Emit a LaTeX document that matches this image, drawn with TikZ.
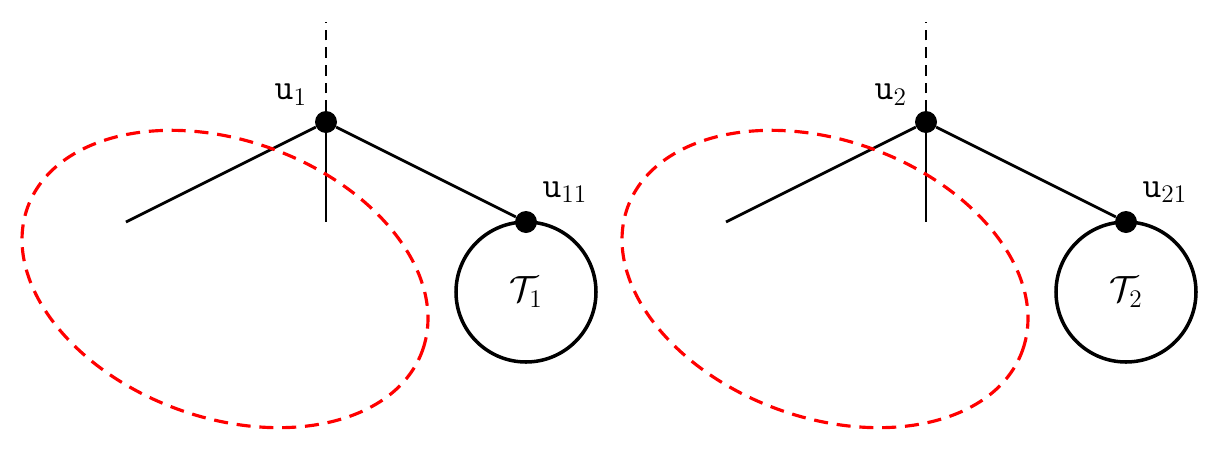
\documentclass[tikz,border=0pt]{standalone}
\usetikzlibrary{positioning}
\begin{document}
\begin{tikzpicture}[
    >=stealth,
    edge/.style={line width=1.6pt},
    vertex/.style={circle, fill=black, inner sep=0pt, minimum size=0.44cm},
    subtree/.style={circle, draw, line width=2pt, minimum size=2.8cm, inner sep=0pt, font=\huge},
    region/.style={red, dashed, line width=1.8pt, dash pattern=on 8pt off 5pt},
    lbl/.style={font=\huge},
]
    \useasboundingbox (0,0) rectangle (24.32,-9);

    % two copies of the same tree, shifted by 12cm
    \foreach \i/\dx in {1/0, 2/12} {
        \begin{scope}[xshift=\dx cm]
            \node[vertex] (u\i) at (6.52,-2.44) {};
            \coordinate (top\i) at (6.52,-0.44);
            \coordinate (left\i) at (2.52,-4.44);
            \coordinate (mid\i) at (6.52,-4.44);
            \node[vertex] (u\i1) at (10.52,-4.44) {};
            \node[subtree] (T\i) at (10.52,-5.84) {$\mathcal{T}_{\i}$};

            \node[lbl, above left=0.05cm and 0.1cm of u\i] {$\mathtt{u}_{\i}$};
            \node[lbl, above right=0.1cm and 0.05cm of u\i1] {$\mathtt{u}_{\i1}$};

            \draw[edge, dashed, dash pattern=on 6pt off 4pt] (u\i) -- (top\i);
            \draw[edge] (u\i) -- (left\i);
            \draw[edge] (u\i) -- (mid\i);
            \draw[edge] (u\i) -- (u\i1);

            % region around the left branches
            \draw[region, rotate around={-20:(4.5,-5.58)}] (4.5,-5.58) ellipse (4.2cm and 2.77cm);
        \end{scope}
    }
\end{tikzpicture}
\end{document}
